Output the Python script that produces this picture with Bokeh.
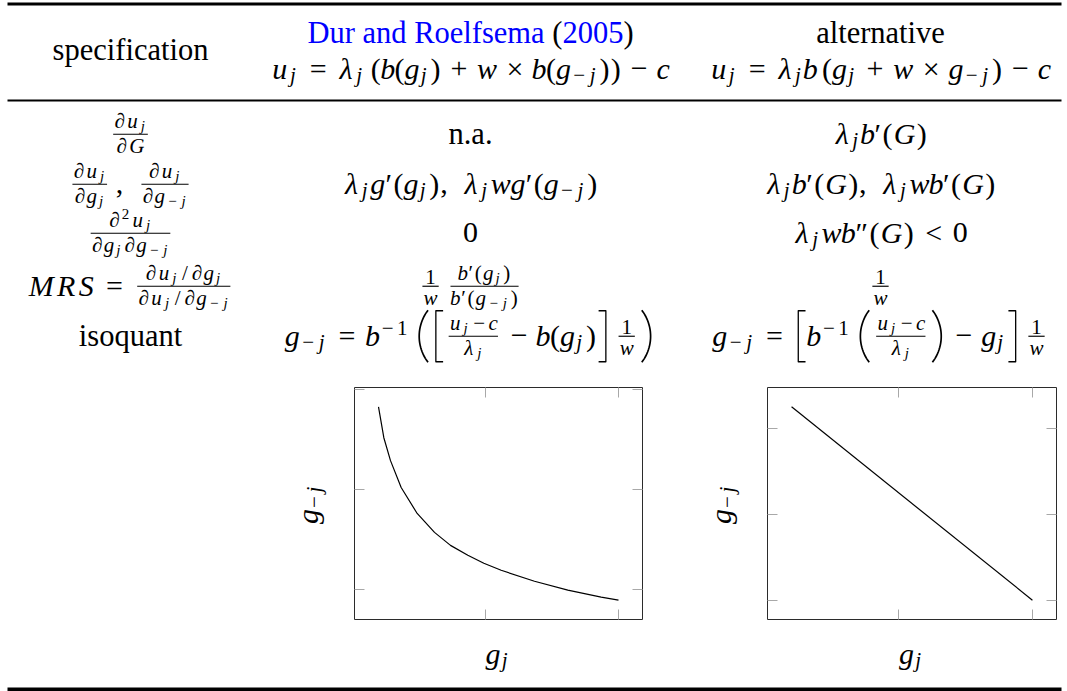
import math
from bokeh.plotting import figure
from bokeh.layouts import column, row
from bokeh.models import ColumnDataSource, Range1d, FixedTicker, LinearAxis
from bokeh.core.properties import value
from bokeh.embed import file_html
from bokeh.resources import INLINE

# ---------------- table content ----------------
col_heads = ["specification", "Dur and Roelfsema (2005)", "alternative"]
head_formulas = [r"u_j = \lambda_j \left( b(g_j) + w \times b(g_{-j}) \right) - c",
                 r"u_j = \lambda_j b \left( g_j + w \times g_{-j} \right) - c"]
spec_col = [r"$\frac{\partial u_j}{\partial G}$",
            r"$\frac{\partial u_j}{\partial g_j},\ \frac{\partial u_j}{\partial g_{-j}}$",
            r"$\frac{\partial^2 u_j}{\partial g_j \partial g_{-j}}$",
            r"$MRS = \frac{\partial u_j / \partial g_j}{\partial u_j / \partial g_{-j}}$",
            "isoquant"]
dur_col = ["n.a.",
           r"$\lambda_j g'(g_j),\ \lambda_j w g'(g_{-j})$",
           r"$0$",
           r"$\frac{1}{w} \frac{b'(g_j)}{b'(g_{-j})}$",
           r"$g_{-j} = b^{-1} \left( \left[ \frac{u_j - c}{\lambda_j} - b(g_j) \right] \frac{1}{w} \right)$"]
alt_col = [r"$\lambda_j b'(G)$",
           r"$\lambda_j b'(G),\ \lambda_j w b'(G)$",
           r"$\lambda_j w b''(G) < 0$",
           r"$\frac{1}{w}$",
           r"$g_{-j} = \left[ b^{-1} \left( \frac{u_j - c}{\lambda_j} \right) - g_j \right] \frac{1}{w}$"]
x_label = r"g_j"
y_label = r"g_{-j}"

# ---------------- isoquant data ----------------
dur_gj = [0.20, 0.24, 0.29, 0.37, 0.49, 0.62, 0.74, 0.87, 0.99, 1.12, 1.37, 1.62, 1.87, 2.00]
dur_gmj = [2.83, 2.52, 2.29, 2.02, 1.76, 1.57, 1.44, 1.34, 1.26, 1.19, 1.08, 0.99, 0.92, 0.89]
alt_gj = [0.20, 2.00]
alt_gmj = [3.25, 1.00]
tick_x = [1, 2]
tick_y = [1, 2, 3]

# ---------------- tiny math layout engine ----------------
FONT = "'Liberation Serif', 'Times New Roman', serif"
EM0 = 29.0
LV_EM = [EM0, EM0 * 0.7, EM0 * 0.5]
LV_WS = [1.0, 1.12, 1.3]
LV_PX = [30.0, 21.0, 15.0]
RULE_T = 0.04 * EM0
TEXT_PX = 30.5
BASE_FIX = 0.26   # renderer draws alphabetic baselines this many em too low

CMW = {'u': .572, 'j': .412, 'λ': .583, 'b': .429, 'g': .477, 'w': .716, 'c': .433,
       'G': .786, 'M': .970, 'R': .759, 'S': .613, '∂': .566, '(': .389, ')': .389,
       '[': .278, ']': .278, '=': .778, '+': .778, '−': .778, '×': .778, '<': .778,
       ',': .278, '/': .5, '0': .5, '1': .5, '2': .5}
CMH = {'u': .431, 'g': .431, 'w': .431, 'c': .431, 'j': .655, 'λ': .694, 'b': .694,
       '∂': .715, 'G': .705, 'S': .705, 'M': .683, 'R': .683, '(': .75, ')': .75,
       '[': .75, ']': .75, '/': .75, '0': .644, '1': .644, '2': .644, '=': .367,
       '+': .583, '−': .583, '×': .5, '<': .54, ',': .106}
CMD = {'j': .194, 'g': .194, '(': .25, ')': .25, '[': .25, ']': .25, '/': .25,
       ',': .194, '+': .083, '−': .083, '<': .04}
ITAL = set("ujλbgwcGMRS∂")
KIND = {'=': 'rel', '<': 'rel', '+': 'bin', '−': 'bin', '×': 'bin', '(': 'open', '[': 'open',
        ')': 'close', ']': 'close', ',': 'punct'}
CMDS = {'\\partial': '∂', '\\lambda': 'λ', '\\times': '×'}
TH, MD, TK = 3 / 18, 4 / 18, 5 / 18
SPACE = {('ord', 'bin'): MD, ('ord', 'rel'): TK, ('ord', 'inner'): TH,
         ('bin', 'ord'): MD, ('bin', 'open'): MD, ('bin', 'inner'): MD,
         ('rel', 'ord'): TK, ('rel', 'open'): TK, ('rel', 'inner'): TK,
         ('close', 'bin'): MD, ('close', 'rel'): TK, ('close', 'inner'): TH,
         ('punct', 'ord'): TH, ('punct', 'open'): TH, ('punct', 'inner'): TH,
         ('punct', 'rel'): TH, ('punct', 'close'): TH, ('punct', 'punct'): TH,
         ('inner', 'ord'): TH, ('inner', 'bin'): MD, ('inner', 'rel'): TK,
         ('inner', 'open'): TH, ('inner', 'punct'): TH, ('inner', 'inner'): TH}
BIGW = {'(': [.389, .458, .597, .736, .875], ')': [.389, .458, .597, .736, .875],
        '[': [.278, .417, .472, .528, .583], ']': [.278, .417, .472, .528, .583]}
DSIZES = [1.0, 1.2, 1.8, 2.4, 3.0]


class Box:
    def __init__(self, w=0.0, h=0.0, d=0.0):
        self.w, self.h, self.d = w, h, d
        self.g, self.r, self.pl = [], [], []

    def put(self, other, dx, dy):
        self.g += [(x + dx, y + dy, t, px, st, col) for (x, y, t, px, st, col) in other.g]
        self.r += [(a + dx, b + dx, y + dy, th) for (a, b, y, th) in other.r]
        self.pl += [([x + dx for x in xs], [y + dy for y in ys], lw) for (xs, ys, lw) in other.pl]


def char_box(ch, lvl, color):
    em = LV_EM[lvl]
    w = CMW.get(ch, 0.5) * em * LV_WS[lvl]
    b = Box(w, CMH.get(ch, 0.431) * em, CMD.get(ch, 0.0) * em)
    b.g.append((w / 2, 0.0, ch, LV_PX[lvl], 'italic' if ch in ITAL else 'normal', color))
    return b


def hpack(items):
    out = Box()
    x = 0.0
    for bx in items:
        out.put(bx, x, 0)
        x += bx.w
        out.h = max(out.h, bx.h)
        out.d = max(out.d, bx.d)
    out.w = x
    return out


def attach(base, sub, sup, lvl, primes, color):
    em = LV_EM[lvl]
    out = Box()
    out.put(base, 0, 0)
    w, h, d = base.w, base.h, base.d
    if primes:
        pch = '′' if primes == 1 else '″'
        pw = (0.28 if primes == 1 else 0.5) * em * LV_WS[lvl]
        out.g.append((w + pw / 2, 0.0, pch, LV_PX[lvl], 'normal', color))
        w += pw
        h = max(h, 0.75 * em)
    xh = 0.431 * em
    sw = 0.0
    if sup is not None:
        u = max(0.363 * em, sup.d + xh / 4)
        out.put(sup, w, -u)
        h = max(h, u + sup.h)
        sw = sup.w
    if sub is not None:
        v = max(0.15 * em, sub.h - 0.8 * xh)
        out.put(sub, w, v)
        d = max(d, v + sub.d)
        sw = max(sw, sub.w)
    if sub is not None or sup is not None:
        w += sw + 0.05 * em
    out.w, out.h, out.d = w, h, d
    return out


def frac(num, den, lvl):
    em = LV_EM[lvl]
    axis = 0.25 * em
    u = max(0.394 * em, axis + 1.5 * RULE_T + num.d)
    v = max(0.344 * em, den.h - axis + 1.5 * RULE_T)
    W = max(num.w, den.w)
    pad = 0.12 * em
    out = Box(W + 2 * pad, u + num.h, v + den.d)
    out.put(num, pad + (W - num.w) / 2, -u)
    out.put(den, pad + (W - den.w) / 2, v)
    out.r.append((pad, pad + W, -axis, RULE_T))
    return out


def delim(ch, inner, lvl, color):
    em = LV_EM[lvl]
    axis = 0.25 * em
    delta = max(inner.h - axis, inner.d + axis)
    need = max(2 * delta * 0.901, 2 * delta - 0.5 * EM0)
    k = 0
    while k < len(DSIZES) - 1 and DSIZES[k] * em < need:
        k += 1
    if k == 0:
        return char_box(ch, lvl, color)
    total = DSIZES[k] * em
    w = BIGW[ch][k] * em
    top, bot = -axis - total / 2, -axis + total / 2
    b = Box(w, total / 2 + axis, total / 2 - axis)
    if ch in '()':
        pts = []
        for i in range(25):
            t = i / 24
            a, bb, c, dd = (1 - t) ** 3, 3 * t * (1 - t) ** 2, 3 * t * t * (1 - t), t ** 3
            px = a * 0.80 + bb * 0.12 + c * 0.12 + dd * 0.80
            py = a * top + bb * (top + 0.3 * total) + c * (bot - 0.3 * total) + dd * bot
            pts.append((px, py))
        xs = [(p if ch == '(' else 1 - p) * w for p, _ in pts]
        ys = [q for _, q in pts]
        b.pl.append((xs, ys, 1.7))
    else:
        xs = [0.85, 0.32, 0.32, 0.85]
        if ch == ']':
            xs = [1 - x for x in xs]
        b.pl.append(([x * w for x in xs], [top + 0.6, top + 0.6, bot - 0.6, bot - 0.6], 1.3))
    return b


def tokenize(s):
    toks, i = [], 0
    while i < len(s):
        c = s[i]
        if c == '\\':
            j = i + 1
            if j < len(s) and not s[j].isalpha():
                toks.append(s[i:j + 1])
                i = j + 1
                continue
            while j < len(s) and s[j].isalpha():
                j += 1
            toks.append(s[i:j])
            i = j
        elif c.isspace():
            i += 1
        else:
            toks.append(c)
            i += 1
    return toks


class Parser:
    def __init__(self, s, color):
        self.t, self.i, self.color = tokenize(s), 0, color

    def peek(self):
        return self.t[self.i] if self.i < len(self.t) else None

    def take(self):
        tok = self.t[self.i]
        self.i += 1
        return tok


def parse_arg(p, lvl):
    if p.peek() == '{':
        p.take()
        b = parse_list(p, lvl)
        p.take()
        return b
    return parse_nucleus(p, lvl)[1]


def parse_nucleus(p, lvl):
    t = p.take()
    if t == '{':
        b = parse_list(p, lvl)
        p.take()
        return 'ord', b
    if t == '\\frac':
        sl = min(lvl + 1, 2)
        num = parse_arg(p, sl)
        den = parse_arg(p, sl)
        return 'inner', frac(num, den, lvl)
    if t == '\\left':
        d1 = p.take()
        inner = parse_list(p, lvl)
        p.take()  # \right
        d2 = p.take()
        return 'inner', hpack([delim(d1, inner, lvl, p.color), inner, delim(d2, inner, lvl, p.color)])
    ch = CMDS.get(t, t)
    if ch == '-':
        ch = '−'
    return KIND.get(ch, 'ord'), char_box(ch, lvl, p.color)


def parse_list(p, lvl):
    noads = []
    while True:
        t = p.peek()
        if t is None or t in ('}', '\\right'):
            break
        if t == '\\ ':
            p.take()
            noads.append(['kern', Box(0.333 * LV_EM[lvl])])
            continue
        if t == '\\,':
            p.take()
            noads.append(['kern', Box(TH * LV_EM[lvl])])
            continue
        kind, nuc = parse_nucleus(p, lvl)
        primes, sub, sup = 0, None, None
        while True:
            t = p.peek()
            if t == "'":
                p.take()
                primes += 1
            elif t == '_':
                p.take()
                sub = parse_arg(p, min(lvl + 1, 2))
            elif t == '^':
                p.take()
                sup = parse_arg(p, min(lvl + 1, 2))
            else:
                break
        if primes or sub is not None or sup is not None:
            nuc = attach(nuc, sub, sup, lvl, primes, p.color)
        noads.append([kind, nuc])
    items, prev = [], None
    for kind, box in noads:
        if kind == 'kern':
            items.append(box)
            continue
        if kind == 'bin' and prev in (None, 'bin', 'rel', 'open', 'punct'):
            kind = 'ord'
        if prev is not None and lvl == 0:
            sp = SPACE.get((prev, kind), 0)
            if sp:
                items.append(Box(sp * LV_EM[lvl]))
        items.append(box)
        prev = kind
    return hpack(items)


def math_box(s, color="black"):
    return parse_list(Parser(s, color), 0)


def new_store():
    return dict(g=dict(x=[], y=[], text=[], size=[], style=[], color=[], angle=[]),
                r=dict(x0=[], x1=[], y=[], w=[]),
                pl=dict(xs=[], ys=[], w=[]))


def add_glyph(store, x, y, t, px, st, col, ang):
    g = store['g']
    g['x'].append(x); g['y'].append(y); g['text'].append(t)
    g['size'].append("%.1fpx" % px); g['style'].append(st); g['color'].append(col)
    g['angle'].append(ang)


def emit_box(store, box, cx, base_y):
    x0 = cx - box.w / 2
    for (gx, gy, t, px, st, col) in box.g:
        add_glyph(store, x0 + gx, -(base_y + gy - BASE_FIX * px), t, px, st, col, 0.0)
    r = store['r']
    for (a, b, gy, th) in box.r:
        r['x0'].append(x0 + a); r['x1'].append(x0 + b); r['y'].append(-(base_y + gy)); r['w'].append(th)
    pl = store['pl']
    for (xs, ys, lw) in box.pl:
        pl['xs'].append([x0 + x for x in xs]); pl['ys'].append([-(base_y + y) for y in ys]); pl['w'].append(lw)


def emit_rotated(store, box, base_x, cy):
    by = cy + box.w / 2
    for (gx, gy, t, px, st, col) in box.g:
        add_glyph(store, base_x + gy - BASE_FIX * px, -(by - gx), t, px, st, col, math.pi / 2)


def emit_text(store, text, cx, base_y, color="black", px=TEXT_PX):
    add_glyph(store, cx, -(base_y - BASE_FIX * px), text, px, 'normal', color, 0.0)


def emit_rule(store, x0, x1, y, w):
    r = store['r']
    r['x0'].append(x0); r['x1'].append(x1); r['y'].append(-y); r['w'].append(w)


def emit_cell(store, s, cx, base_y):
    if s.startswith('$') and s.endswith('$'):
        emit_box(store, math_box(s[1:-1]), cx, base_y)
    else:
        emit_text(store, s, cx, base_y)


def canvas(x0, y0, x1, y1):
    f = figure(width=int(round(x1 - x0)), height=int(round(y1 - y0)),
               x_range=Range1d(x0, x1), y_range=Range1d(-y1, -y0),
               output_backend="svg", toolbar_location=None, min_border=0,
               x_axis_location=None, y_axis_location=None)
    f.grid.visible = False
    f.outline_line_color = None
    f.background_fill_color = "white"
    f.border_fill_color = "white"
    return f


def draw_store(f, store):
    if store['r']['x0']:
        rs = ColumnDataSource(dict(x0=store['r']['x0'], x1=store['r']['x1'],
                                   y0=store['r']['y'], y1=store['r']['y'], w=store['r']['w']))
        f.segment(x0='x0', y0='y0', x1='x1', y1='y1', line_width='w', line_color="black", source=rs)
    if store['pl']['xs']:
        ps = ColumnDataSource(store['pl'])
        f.multi_line(xs='xs', ys='ys', line_width='w', line_color="black", line_join="round", source=ps)
    if store['g']['x']:
        gs = ColumnDataSource(store['g'])
        f.text(x='x', y='y', text='text', angle='angle', text_font_size='size',
               text_font_style='style', text_color='color', text_align='center',
               text_baseline='alphabetic', text_font=value(FONT), source=gs)


# ---------------- page layout (page pixel coordinates) ----------------
PX0, PX1 = 0, 1067
TOP_Y0, ROW_Y0, ROW_Y1, BOT_Y1 = 0, 377, 629, 691
RULE_X0, RULE_X1 = 7, 1061
COL_CX = [130, 470, 880]
HEAD_Y1, HEAD_Y2, SPEC_Y = 40, 76, 57
ROW_Y = [141, 191, 240, 293, 343]
BLUE = "#0000ff"

# top part: header and rows
top = new_store()
emit_rule(top, RULE_X0, RULE_X1, 3.5, 3.2)
emit_rule(top, RULE_X0, RULE_X1, 100.0, 1.8)
emit_text(top, col_heads[0], COL_CX[0], SPEC_Y)
# citation with black parentheses
TW = {'D': .722, 'u': .5, 'r': .333, ' ': .25, 'a': .444, 'n': .5, 'd': .5, 'R': .667, 'o': .5,
      'e': .444, 'l': .278, 'f': .333, 's': .389, 'm': .778, '(': .333, ')': .333, '0': .5,
      '2': .5, '5': .5}
cite = col_heads[1]
name, year = cite.split(" (")
year = year.rstrip(")")
runs = [(name, BLUE), (" ", None), ("(", "black"), (year, BLUE), (")", "black")]
total = sum(TW.get(ch, .5) for ch in cite) * TEXT_PX
xx = COL_CX[1] - total / 2
for txt, col in runs:
    wdt = sum(TW.get(ch, .5) for ch in txt) * TEXT_PX
    if col is not None:
        emit_text(top, txt, xx + wdt / 2, HEAD_Y1, color=col)
    xx += wdt
emit_text(top, col_heads[2], COL_CX[2], HEAD_Y1)
emit_box(top, math_box(head_formulas[0]), COL_CX[1], HEAD_Y2)
emit_box(top, math_box(head_formulas[1]), COL_CX[2], HEAD_Y2)
for i in range(5):
    emit_cell(top, spec_col[i], COL_CX[0], ROW_Y[i])
    emit_cell(top, dur_col[i], COL_CX[1], ROW_Y[i])
    emit_cell(top, alt_col[i], COL_CX[2], ROW_Y[i])

f_top = canvas(PX0, TOP_Y0, PX1, ROW_Y0)
draw_store(f_top, top)

# isoquant plots
P1 = (344, 652, 10)   # figure x0, x1, right border
P2 = (757, 1067, 11)
BORDER = 10


def iso_plot(xs, ys, fx0, fx1, rb):
    xspan = max(xs) - min(xs)
    yspan = max(ys) - min(ys)
    f = figure(width=fx1 - fx0, height=ROW_Y1 - ROW_Y0,
               x_range=Range1d(min(xs) - 0.1 * xspan, max(xs) + 0.1 * xspan),
               y_range=Range1d(min(ys) - 0.1 * yspan, max(ys) + 0.1 * yspan),
               output_backend="svg", toolbar_location=None,
               min_border_left=BORDER, min_border_right=rb,
               min_border_top=BORDER, min_border_bottom=BORDER,
               x_axis_location=None, y_axis_location=None)
    f.grid.visible = False
    f.outline_line_color = "#2b2b2b"
    f.outline_line_width = 1
    f.background_fill_color = "white"
    f.border_fill_color = "white"
    for loc in ("left", "right", "above", "below"):
        ticks = tick_x if loc in ("above", "below") else tick_y
        ax = LinearAxis(ticker=FixedTicker(ticks=ticks), axis_line_color=None,
                        major_tick_in=10, major_tick_out=0, minor_tick_in=0, minor_tick_out=0,
                        major_tick_line_color="#a8a8a8", major_tick_line_width=1,
                        major_label_text_font_size="0px", major_label_standoff=0,
                        major_label_overrides={t: "" for t in ticks})
        f.add_layout(ax, loc)
    f.line(xs, ys, line_color="black", line_width=1.2)
    return f


f_p1 = iso_plot(dur_gj, dur_gmj, *P1)
f_p2 = iso_plot(alt_gj, alt_gmj, *P2)

frame1 = (P1[0] + BORDER, P1[1] - P1[2])
frame2 = (P2[0] + BORDER, P2[1] - P2[2])
frame_cy = (ROW_Y0 + BORDER + ROW_Y1 - BORDER) / 2

sp1 = new_store()
emit_rotated(sp1, math_box(y_label), frame1[0] - 39, frame_cy)
f_sp1 = canvas(PX0, ROW_Y0, P1[0], ROW_Y1)
draw_store(f_sp1, sp1)

sp2 = new_store()
emit_rotated(sp2, math_box(y_label), frame2[0] - 39, frame_cy)
f_sp2 = canvas(P1[1], ROW_Y0, P2[0], ROW_Y1)
draw_store(f_sp2, sp2)

bot = new_store()
emit_box(bot, math_box(x_label), (frame1[0] + frame1[1]) / 2, 661)
emit_box(bot, math_box(x_label), (frame2[0] + frame2[1]) / 2, 661)
emit_rule(bot, RULE_X0, RULE_X1, 688.8, 3.6)
f_bot = canvas(PX0, ROW_Y1, PX1, BOT_Y1)
draw_store(f_bot, bot)

layout = column(f_top, row(f_sp1, f_p1, f_sp2, f_p2), f_bot)
open("out.html", "w").write(file_html(layout, INLINE))
